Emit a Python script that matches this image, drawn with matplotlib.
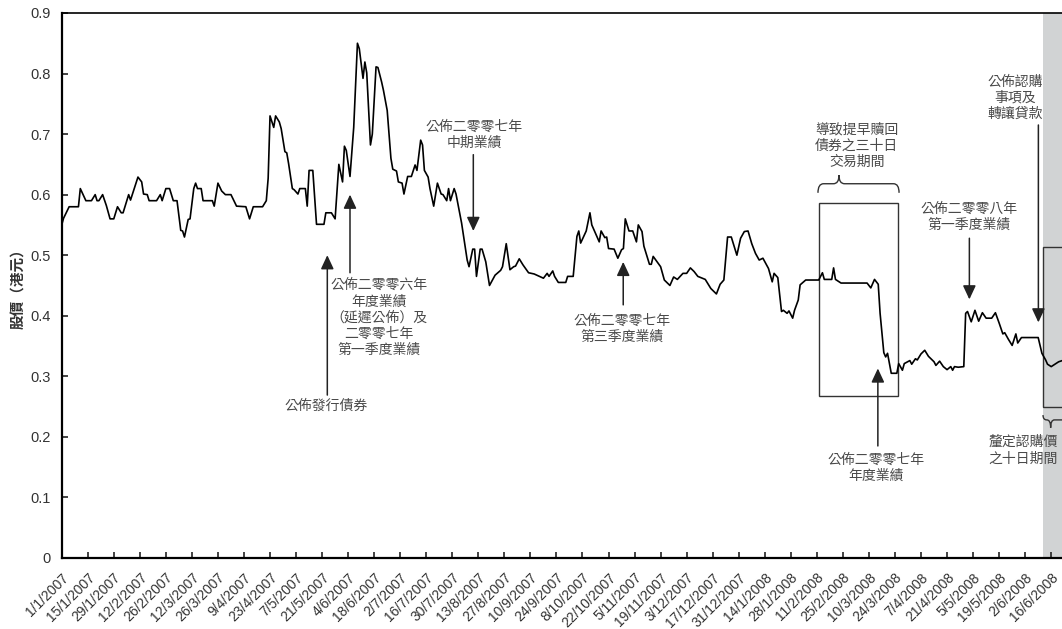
import numpy as np
import pandas as pd
import matplotlib
matplotlib.use("Agg")
import matplotlib.pyplot as plt
import matplotlib.transforms as mtransforms
from matplotlib.patches import Rectangle, PathPatch
from matplotlib.path import Path

# closing price, x = days after 1/1/2007
days = [0, 1, 4, 9, 10, 13, 16, 18, 19, 20, 22, 24, 26, 28, 30, 32, 33, 36, 37, 39,
        41, 43, 44, 46, 47, 51, 53, 54, 56, 58, 60, 62, 64, 65, 66, 68, 69, 71, 72, 73,
        75, 76, 81, 82, 84, 86, 88, 91, 94, 99, 101, 103, 108, 110, 111, 112, 114, 115, 117, 118,
        120, 121, 122, 124, 125, 127, 128, 131, 132, 133, 135, 137, 141, 142, 145, 147, 149, 151, 152, 153,
        155, 157, 159, 160, 162, 163, 164, 166, 167, 169, 170, 172, 173, 175, 177, 178, 180, 181, 183, 184,
        186, 188, 190, 191, 193, 194, 195, 197, 198, 200, 202, 204, 205, 207, 208, 209, 211, 212, 215, 218,
        219, 221, 222, 223, 225, 226, 228, 230, 233, 236, 237, 239, 241, 243, 244, 246, 248, 251, 254, 259,
        261, 262, 264, 265, 267, 271, 272, 275, 277, 278, 279, 282, 284, 285, 288, 289, 290, 292, 293, 294,
        297, 299, 301, 302, 303, 305, 307, 309, 310, 312, 313, 316, 317, 318, 322, 324, 327, 329, 331, 334,
        336, 338, 340, 342, 346, 349, 352, 354, 356, 358, 360, 363, 365, 367, 369, 371, 373, 375, 377, 380,
        382, 383, 385, 387, 388, 390, 391, 393, 394, 396, 397, 400, 407, 409, 410, 414, 415, 416, 419, 433,
        435, 437, 439, 440, 442, 443, 444, 446, 449, 450, 452, 453, 456, 457, 459, 460, 462, 464, 466, 469,
        470, 472, 474, 476, 478, 479, 480, 482, 485, 486, 487, 489, 491, 493, 495, 497, 500, 502, 504, 506,
        507, 509, 511, 513, 514, 516, 525, 527, 529, 530, 532, 534, 536, 538]
price = [0.550, 0.561, 0.580, 0.580, 0.610, 0.590, 0.590, 0.600, 0.590, 0.590, 0.600, 0.582, 0.560, 0.560, 0.580, 0.570, 0.570, 0.600, 0.591, 0.610,
         0.629, 0.621, 0.601, 0.600, 0.590, 0.590, 0.600, 0.590, 0.610, 0.610, 0.590, 0.590, 0.541, 0.540, 0.530, 0.559, 0.560, 0.610, 0.619, 0.610,
         0.610, 0.590, 0.590, 0.581, 0.619, 0.606, 0.600, 0.600, 0.581, 0.580, 0.560, 0.580, 0.580, 0.590, 0.627, 0.730, 0.711, 0.730, 0.720, 0.709,
         0.671, 0.669, 0.651, 0.610, 0.608, 0.601, 0.610, 0.610, 0.581, 0.640, 0.640, 0.551, 0.551, 0.570, 0.570, 0.560, 0.650, 0.621, 0.680, 0.673,
         0.630, 0.711, 0.850, 0.841, 0.792, 0.819, 0.801, 0.682, 0.700, 0.811, 0.810, 0.786, 0.772, 0.739, 0.660, 0.642, 0.639, 0.621, 0.619, 0.601,
         0.630, 0.630, 0.649, 0.640, 0.690, 0.682, 0.640, 0.629, 0.610, 0.581, 0.619, 0.601, 0.600, 0.590, 0.610, 0.590, 0.610, 0.601, 0.553, 0.492,
         0.481, 0.510, 0.510, 0.465, 0.510, 0.510, 0.489, 0.450, 0.467, 0.475, 0.481, 0.519, 0.476, 0.481, 0.482, 0.494, 0.484, 0.471, 0.469, 0.462,
         0.470, 0.465, 0.474, 0.465, 0.455, 0.455, 0.465, 0.465, 0.531, 0.540, 0.520, 0.540, 0.570, 0.550, 0.529, 0.522, 0.540, 0.529, 0.530, 0.511,
         0.510, 0.495, 0.509, 0.511, 0.560, 0.540, 0.540, 0.522, 0.550, 0.539, 0.515, 0.485, 0.485, 0.498, 0.481, 0.459, 0.450, 0.464, 0.460, 0.470,
         0.470, 0.479, 0.473, 0.465, 0.460, 0.445, 0.436, 0.452, 0.459, 0.530, 0.530, 0.500, 0.528, 0.539, 0.540, 0.519, 0.503, 0.492, 0.495, 0.478,
         0.456, 0.470, 0.463, 0.407, 0.409, 0.404, 0.408, 0.396, 0.409, 0.426, 0.451, 0.459, 0.459, 0.471, 0.460, 0.460, 0.479, 0.460, 0.454, 0.454,
         0.446, 0.460, 0.452, 0.404, 0.339, 0.332, 0.338, 0.305, 0.305, 0.321, 0.310, 0.321, 0.326, 0.320, 0.329, 0.327, 0.337, 0.343, 0.333, 0.324,
         0.318, 0.325, 0.316, 0.311, 0.316, 0.310, 0.316, 0.315, 0.316, 0.404, 0.407, 0.390, 0.409, 0.391, 0.405, 0.396, 0.396, 0.405, 0.388, 0.370,
         0.372, 0.361, 0.351, 0.370, 0.355, 0.364, 0.364, 0.338, 0.327, 0.320, 0.316, 0.320, 0.324, 0.326]

tick_dates = pd.date_range("2007-01-01", "2008-06-16", freq="14D")
tick_labels = [f"{d.day}/{d.month}/{d.year}" for d in tick_dates]
y_ticks = [0, 0.1, 0.2, 0.3, 0.4, 0.5, 0.6, 0.7, 0.8, 0.9]
y_labels = ["0", "0.1", "0.2", "0.3", "0.4", "0.5", "0.6", "0.7", "0.8", "0.9"]

plt.rcParams['font.family'] = ['Liberation Sans', 'Noto Sans CJK TC', 'DejaVu Sans']
CJK = ['Noto Sans CJK TC', 'DejaVu Sans']
TXT = '#4a4a4a'
INK = '#222222'


def arrow(ax, x, y_from, y_to):
    ax.annotate("", xy=(x, y_to), xytext=(x, y_from),
                arrowprops=dict(arrowstyle="-|>,head_length=0.6,head_width=0.28",
                                lw=1.1, color=INK, shrinkA=0, shrinkB=0,
                                mutation_scale=14))


def note(ax, x, y, s):
    ax.text(x, y, s, ha='center', va='center', multialignment='center',
            family=CJK, fontsize=10, color=TXT, linespacing=1.2)


def brace(ax, x0, x1, xt, yb, ym, yt, r):
    # curly brace: ends at yb, long arms at ym, point at (xt, yt)
    verts = [(x0, yb), (x0, ym), (x0 + r, ym), (xt - r, ym), (xt, ym), (xt, yt),
             (xt, ym), (xt + r, ym), (x1 - r, ym), (x1, ym), (x1, yb)]
    codes = [Path.MOVETO, Path.CURVE3, Path.CURVE3, Path.LINETO, Path.CURVE3, Path.CURVE3,
             Path.CURVE3, Path.CURVE3, Path.LINETO, Path.CURVE3, Path.CURVE3]
    ax.add_patch(PathPatch(Path(verts, codes), fill=False, lw=1.0, ec='#333333'))


fig = plt.figure(figsize=(10.62, 6.29), dpi=100)
ax = fig.add_axes([0.0581, 0.1129, 0.9419, 0.8665])

ax.axvspan(527.6, 560, color='#d1d3d4', lw=0, zorder=0)
ax.plot(days, price, color='black', lw=1.2, zorder=3)

# boxes
ax.add_patch(Rectangle((407.2, 0.267), 42.6, 0.32, fill=False, lw=1.0, ec='#333333'))
ax.add_patch(Rectangle((527.6, 0.25), 30, 0.263, fill=False, lw=1.0, ec='#333333'))
brace(ax, 406.6, 450.2, 417.9, 0.603, 0.618, 0.632, 3)
brace(ax, 527.6, 560, 531.7, 0.236, 0.228, 0.215, 2)

# events
arrow(ax, 142.8, 0.269, 0.5)
note(ax, 142.1, 0.251, "公佈發行債券")
arrow(ax, 155, 0.471, 0.6)
note(ax, 170.4, 0.397, "公佈二零零六年\n年度業績\n（延遲公佈）及\n二零零七年\n第一季度業績")
arrow(ax, 221.3, 0.666, 0.540)
note(ax, 221.8, 0.699, "公佈二零零七年\n中期業績")
arrow(ax, 301.9, 0.418, 0.489)
note(ax, 301.1, 0.379, "公佈二零零七年\n第三季度業績")
note(ax, 427.4, 0.681, "導致提早贖回\n債券之三十日\n交易期間")
arrow(ax, 438.8, 0.185, 0.313)
note(ax, 437.8, 0.149, "公佈二零零七年\n年度業績")
arrow(ax, 488, 0.528, 0.427)
note(ax, 487.8, 0.563, "公佈二零零八年\n第一季度業績")
arrow(ax, 525.1, 0.715, 0.389)
note(ax, 512.5, 0.760, "公佈認購\n事項及\n轉讓貸款")
note(ax, 516.8, 0.178, "釐定認購價\n之十日期間")

ax.set_xlim(0, 537.8)
ax.set_ylim(0, 0.9)
ax.set_xticks([(d - tick_dates[0]).days for d in tick_dates])
ax.set_xticklabels(tick_labels, rotation=45, ha='right', va='top',
                   rotation_mode='anchor', fontsize=10, color='#333333')
shift = mtransforms.ScaledTranslation(-4 / 100, 0, fig.dpi_scale_trans)
for lab in ax.get_xticklabels():
    lab.set_transform(lab.get_transform() + shift)
ax.set_yticks(y_ticks)
ax.set_yticklabels(y_labels, fontsize=10.5, color='#333333')
ax.tick_params(axis='both', direction='in', length=4, width=1.2, color='#222222')
ax.tick_params(axis='x', pad=9)
ax.tick_params(axis='y', pad=8)

ax.spines['right'].set_visible(False)
ax.spines['top'].set_linewidth(1.2)
ax.spines['left'].set_linewidth(1.6)
ax.spines['bottom'].set_linewidth(1.6)

ax.set_ylabel("股價（港元）", family=CJK, fontsize=10.5, fontweight='bold', color='#333333')
ax.yaxis.set_label_coords(-0.036, 0.5)

fig.savefig("out.png", dpi=100)
